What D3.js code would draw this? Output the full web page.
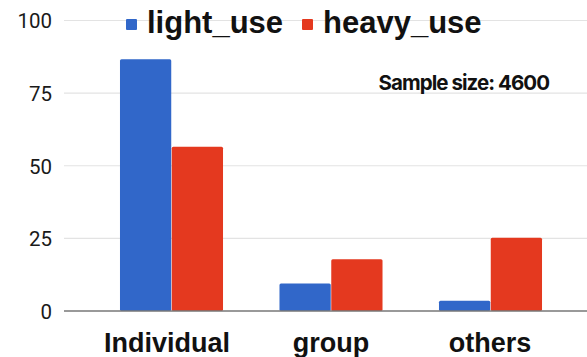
<!DOCTYPE html>
<html><head><meta charset="utf-8">
<script src="https://cdn.jsdelivr.net/npm/d3@7"></script>
<style>body{margin:0;background:#fff}svg{display:block}</style>
</head><body>
<script>
const categories = ["Individual", "group", "others"];
const seriesNames = ["light_use", "heavy_use"];
const lightUse = [86.7, 9.5, 3.5];
const heavyUse = [56.5, 17.8, 25.2];
const yTicks = [0, 25, 50, 75, 100];
const colors = ["#3167c9", "#e4391f"];
const note = "Sample size: 4600";

const W = 587, H = 357;
const svg = d3.select("body").append("svg").attr("width", W).attr("height", H);
const y = d3.scaleLinear().domain([0, 100]).range([311, 20.5]);
const x = d3.scaleBand().domain(categories).range([91.75, 570.25]).paddingInner(0.354).paddingOuter(0.177);
const xs = d3.scaleBand().domain(seriesNames).range([0, x.bandwidth()]).paddingInner(0.01);

// grid
svg.append("g").selectAll("line").data(yTicks.filter(d => d > 0)).join("line")
  .attr("x1", 64).attr("x2", W).attr("y1", d => y(d)).attr("y2", d => y(d))
  .attr("stroke", "#e3e3e3").attr("stroke-width", 1.2);

// y labels
const yAxis = d3.axisLeft(y).tickValues(yTicks).tickSize(0).tickPadding(0);
const ga = svg.append("g").attr("transform", "translate(52,0)").call(yAxis);
ga.select(".domain").remove();
ga.selectAll("text").attr("font-family", "Roboto, sans-serif").attr("font-size", 20.5)
  .attr("fill", "#1a1a1a").attr("dy", "0.36em");

const data = categories.map((c, i) => ({c, vals: [lightUse[i], heavyUse[i]]}));
const g = svg.append("g");
data.forEach(d => {
  d.vals.forEach((v, j) => {
    g.append("rect")
      .attr("x", x(d.c) + xs(seriesNames[j]))
      .attr("width", xs.bandwidth())
      .attr("y", y(v))
      .attr("height", y(0) - y(v))
      .attr("rx", 1.5)
      .attr("fill", colors[j]);
  });
});

// baseline
svg.append("line").attr("x1", 64).attr("x2", W).attr("y1", y(0)).attr("y2", y(0))
  .attr("stroke", "#777").attr("stroke-width", 1.3);

// x labels
const xAxis = d3.axisBottom(x).tickSize(0).tickPadding(0);
const gx = svg.append("g").attr("transform", "translate(0,351.5)").call(xAxis);
gx.select(".domain").remove();
gx.selectAll("text").attr("dy", 0).attr("font-family", "'Liberation Sans', Arial, sans-serif")
  .attr("font-weight", "bold").attr("font-size", 27).attr("fill", "#111")
  .attr("dx", (d, i) => i === 0 ? -4.5 : 0.5 - 0.5 * i);

// legend
const legendX = [126, 302];
seriesNames.forEach((s, i) => {
  svg.append("rect").attr("x", legendX[i]).attr("y", 19).attr("width", 11).attr("height", 11)
    .attr("rx", 1).attr("fill", colors[i]);
  svg.append("text").attr("x", legendX[i] + 21).attr("y", 33).text(s)
    .attr("font-family", "'Liberation Sans', Arial, sans-serif").attr("font-weight", "bold")
    .attr("font-size", 31).attr("fill", "#111");
});

// note
svg.append("text").attr("x", 378.5).attr("y", 89.5).text(note)
  .attr("font-family", "Inter, sans-serif").attr("font-weight", "bold")
  .attr("font-size", 20.5).attr("letter-spacing", -0.95).attr("fill", "#111");
</script>
</body></html>
